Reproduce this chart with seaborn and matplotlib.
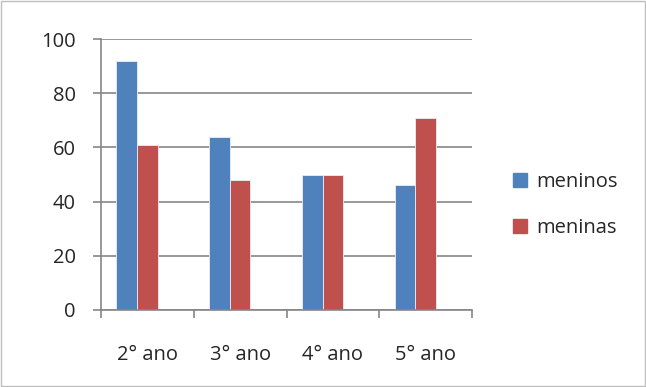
import seaborn as sns
import matplotlib.pyplot as plt
import pandas as pd
from matplotlib.patches import Patch, Rectangle

anos = ["2° ano", "3° ano", "4° ano", "5° ano"]
meninos = [92, 64, 50, 46]
meninas = [61, 48, 50, 71]

df = pd.DataFrame({
    "ano": anos * 2,
    "valor": meninos + meninas,
    "grupo": ["meninos"] * 4 + ["meninas"] * 4,
})

sns.set_style("white")
plt.rcParams['font.family'] = ['Open Sans', 'DejaVu Sans']

cores = {"meninos": "#4F81BD", "meninas": "#C0504D", "vazio": "#FFFFFF"}
fs = 14.5

fig = plt.figure(figsize=(6.46, 3.87), dpi=100)
ax = fig.add_axes([0.1563, 0.199, 0.5744, 0.70])

# third empty series keeps the Excel-like spacing
sns.barplot(data=df, x="ano", y="valor", hue="grupo",
            hue_order=["meninos", "meninas", "vazio"], order=anos,
            palette=cores, saturation=1, width=0.667, ax=ax, legend=False,
            edgecolor="#e8eef6", linewidth=0.6)

ax.set_ylim(0, 100)
ax.set_xlim(-0.5, 3.5)
ax.set_yticks(range(0, 101, 20))
ax.yaxis.grid(True, color="#868686", linewidth=1.2)
ax.set_axisbelow(True)
ax.set_xticks(range(4))
ax.set_xticklabels(anos)
ax.set_xticks([-0.5, 0.5, 1.5, 2.5, 3.5], minor=True)
ax.tick_params(axis="x", which="major", bottom=True, length=0, pad=25, labelsize=fs)
ax.tick_params(axis="x", which="minor", bottom=True, length=6, width=1.2, color="#868686")
ax.tick_params(axis="y", left=True, length=6, width=1.2, color="#868686", labelsize=fs, pad=12)
ax.set_xlabel("")
ax.set_ylabel("")
for s in ["top", "right"]:
    ax.spines[s].set_visible(False)
for s in ["left", "bottom"]:
    ax.spines[s].set_color("#868686")
    ax.spines[s].set_linewidth(1.2)

handles = [Patch(color=cores["meninos"], label="meninos"),
           Patch(color=cores["meninas"], label="meninas")]
fig.legend(handles=handles, loc="center left", bbox_to_anchor=(0.766, 0.47),
           frameon=False, fontsize=fs, handlelength=0.7, handleheight=0.7,
           handletextpad=0.45, labelspacing=1.3)

fig.patches.append(Rectangle((0.001, 0.002), 0.997, 0.995, transform=fig.transFigure,
                             fill=False, edgecolor="#BFBFBF", linewidth=1))

fig.savefig("out.png", dpi=100)
